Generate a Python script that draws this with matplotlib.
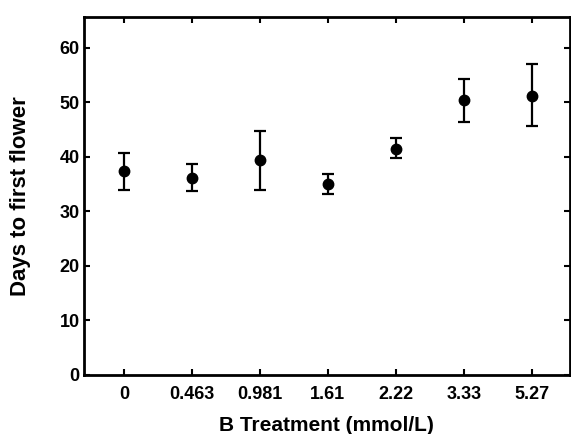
import numpy as np
import matplotlib.pyplot as plt

plt.rcParams['font.family'] = ['Liberation Sans', 'DejaVu Sans']
plt.rcParams['font.weight'] = 'bold'

# B treatment levels (mmol/L) and days to first flower
treatments = ['0', '0.463', '0.981', '1.61', '2.22', '3.33', '5.27']
days = [37.4, 36.2, 39.4, 35.0, 41.4, 50.5, 51.2]
err_low = [3.4, 2.5, 5.4, 1.8, 1.5, 4.0, 5.6]
err_high = [3.4, 2.6, 5.4, 1.8, 2.0, 3.8, 5.8]

x = np.arange(len(treatments))

fig = plt.figure(figsize=(5.71, 4.34), dpi=100)
ax = fig.add_axes([0.147, 0.136, 0.851, 0.825])

ax.errorbar(x, days, yerr=[err_low, err_high], fmt='o', color='black',
            markersize=7.5, elinewidth=1.6, capsize=4, capthick=1.6)

ax.set_xlim(-0.59, 6.56)
ax.set_ylim(0, 65.7)
ax.set_xticks(x)
ax.set_xticklabels(treatments)
ax.set_yticks(np.arange(0, 61, 10))

ax.tick_params(direction='in', length=4, width=1.5, top=True, right=True,
               labelsize=13)
ax.tick_params(axis='x', pad=8)
ax.tick_params(axis='y', pad=3)
for s in ax.spines.values():
    s.set_linewidth(2)

ax.set_xlabel('B Treatment (mmol/L)', fontsize=15, fontweight='bold')
ax.set_ylabel('Days to first flower', fontsize=16, fontweight='bold')
ax.xaxis.set_label_coords(0.5, -0.14)
ax.yaxis.set_label_coords(-0.13, 0.5)
ax.xaxis.label.set_va('center')
ax.yaxis.label.set_va('center')

fig.savefig('out.png', dpi=100)
